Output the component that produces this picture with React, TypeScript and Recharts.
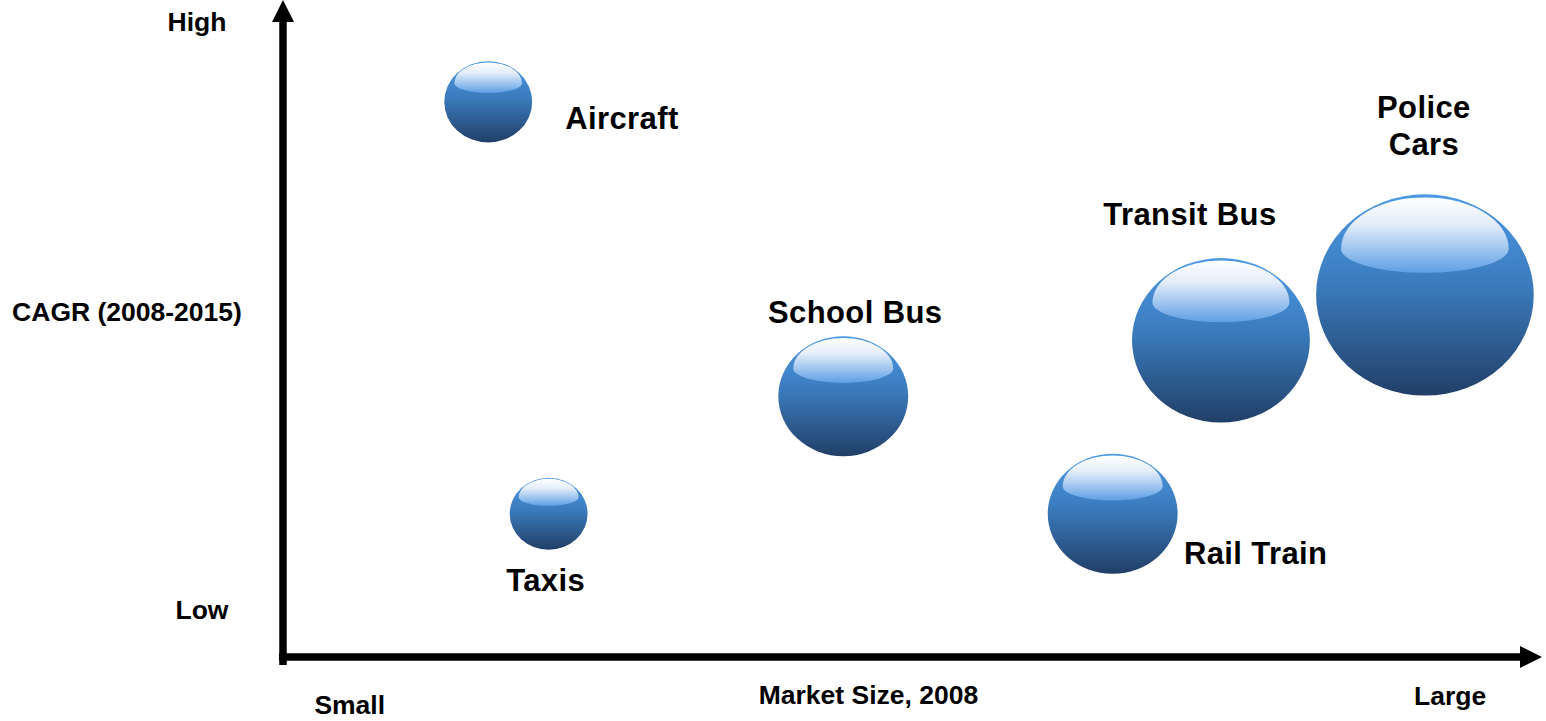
import { ScatterChart, Scatter, XAxis, YAxis, ZAxis, ReferenceLine } from "recharts";

// bubbles (axes are 0-100, unitless)
const names = ["Aircraft", "Taxis", "School Bus", "Rail Train", "Transit Bus", "Police Cars"];
const marketSize = [16.3, 21.1, 44.5, 65.9, 74.5, 90.7];
const cagr = [84.5, 21.8, 39.7, 21.8, 48.2, 55.1];
const bubbleSize = [16.3, 12.8, 35.6, 35.6, 66.8, 100];

const xTicks = [5.3, 46.5, 92.7];
const xTickLabels = ["Small", "Market Size, 2008", "Large"];
const yTicks = [7.3, 52.6, 96.7];
const yTickLabels = ["Low", "CAGR (2008-2015)", "High"];

const data = names.map((name, i) => ({ name, x: marketSize[i], y: cagr[i], z: bubbleSize[i] }));

const FONT = '"Liberation Sans", Arial, Helvetica, sans-serif';
const ASPECT = 1.04; // bubbles are a little wider than tall

// where each label sits relative to its bubble centre
const labelPlace: Record<string, { dx: number; dy: number; anchor?: "start" | "middle"; wrap?: boolean }> = {
  "Aircraft": { dx: 77, dy: 27, anchor: "start" },
  "Taxis": { dx: -3, dy: 77 },
  "School Bus": { dx: 12, dy: -73 },
  "Rail Train": { dx: 143, dy: 50 },
  "Transit Bus": { dx: -31, dy: -115 },
  "Police Cars": { dx: -1, dy: -177, wrap: true },
};

// tick label nudges (x centre left of the y axis, baseline below the x axis)
const yTickShift = [81, 156, 86];
const xTickDrop = [57, 47, 48];

// eslint-disable-next-line @typescript-eslint/no-explicit-any
function Bubble(props: any) {
  const { cx, cy, payload, index } = props;
  const r = props.width ? props.width / 2 : Math.sqrt(props.size / Math.PI);
  const rx = r * ASPECT, ry = r / ASPECT;
  const w = 2 * rx, h = 2 * ry, top = cy - ry;
  const a = 0.385 * w;
  const midY = top + 0.27 * h;
  const upR = 0.255 * h, lowR = 0.12 * h;
  const shine = `M${cx - a},${midY} A${a},${upR} 0 0 1 ${cx + a},${midY} A${a},${lowR} 0 0 1 ${cx - a},${midY} Z`;
  const place = labelPlace[payload.name] ?? { dx: 0, dy: 0 };
  const lines: string[] = place.wrap ? payload.name.split(" ") : [payload.name];
  return (
    <g>
      <defs>
        <linearGradient id={`body-${index}`} x1="0" y1="0" x2="0" y2="1">
          <stop offset="0%" stopColor="#4c99e4" />
          <stop offset="45%" stopColor="#3b7bbd" />
          <stop offset="100%" stopColor="#213f67" />
        </linearGradient>
        <linearGradient id={`shine-${index}`} x1="0" y1="0" x2="0" y2="1">
          <stop offset="0%" stopColor="#ffffff" />
          <stop offset="35%" stopColor="#e4edf9" />
          <stop offset="100%" stopColor="#5e9fe5" />
        </linearGradient>
      </defs>
      <ellipse cx={cx} cy={cy} rx={rx} ry={ry} fill={`url(#body-${index})`} />
      <path d={shine} fill={`url(#shine-${index})`} />
      <text
        x={cx + place.dx}
        y={cy + place.dy}
        textAnchor={place.anchor ?? "middle"}
        fontFamily={FONT}
        fontWeight="bold"
        fontSize={31}
        letterSpacing={0.4}
        fill="#000"
      >
        {lines.map((t, k) => (
          <tspan key={k} x={cx + place.dx} dy={k === 0 ? 0 : 37}>{t}</tspan>
        ))}
      </text>
    </g>
  );
}

// eslint-disable-next-line @typescript-eslint/no-explicit-any
function Arrow(props: any) {
  const { x1, y1, x2, y2, tail = 4 } = props;
  const dx = x2 - x1, dy = y2 - y1;
  const len = Math.hypot(dx, dy) || 1;
  const ux = dx / len, uy = dy / len;
  const head = 22, half = 11;
  const bx = x2 - ux * head, by = y2 - uy * head;
  const px = -uy, py = ux;
  return (
    <g>
      <line x1={x1 - ux * tail} y1={y1 - uy * tail} x2={bx + ux} y2={by + uy} stroke="#000" strokeWidth={7.5} />
      <polygon
        points={`${x2},${y2} ${bx + px * half},${by + py * half} ${bx - px * half},${by - py * half}`}
        fill="#000"
      />
    </g>
  );
}

// eslint-disable-next-line @typescript-eslint/no-explicit-any
function XTick(props: any) {
  const i = xTicks.indexOf(props.payload.value);
  return (
    <text x={props.x} y={props.y + xTickDrop[i]} textAnchor="middle" fontFamily={FONT} fontWeight="bold" fontSize={26.5} fill="#000">
      {xTickLabels[i]}
    </text>
  );
}

// eslint-disable-next-line @typescript-eslint/no-explicit-any
function YTick(props: any) {
  const i = yTicks.indexOf(props.payload.value);
  return (
    <text x={props.x - yTickShift[i]} y={props.y} dy="0.36em" textAnchor="middle" fontFamily={FONT} fontWeight="bold" fontSize={26.5} fill="#000">
      {yTickLabels[i]}
    </text>
  );
}

export default function App() {
  return (
    <div style={{ position: "absolute", left: 0, top: 0, width: 1546, height: 721, background: "#fff" }}>
      <ScatterChart width={1546} height={721} margin={{ top: 0, right: 4, bottom: 0, left: 0 }}>
        <XAxis
          type="number"
          dataKey="x"
          domain={[0, 100]}
          ticks={xTicks}
          interval={0}
          tick={(p) => <XTick {...p} />}
          axisLine={false}
          tickLine={false}
          tickSize={0}
          tickMargin={0}
          height={64}
        />
        <YAxis
          type="number"
          dataKey="y"
          domain={[0, 100]}
          ticks={yTicks}
          interval={0}
          tick={(p) => <YTick {...p} />}
          axisLine={false}
          tickLine={false}
          tickSize={0}
          tickMargin={0}
          width={283}
        />
        <ZAxis type="number" dataKey="z" domain={[0, 100]} range={[0, 34405]} />
        <ReferenceLine
          segment={[{ x: 0, y: 0 }, { x: 100, y: 0 }]}
          ifOverflow="visible"
          shape={(p) => <Arrow {...p} tail={4} />}
        />
        <ReferenceLine
          segment={[{ x: 0, y: 0 }, { x: 0, y: 100 }]}
          ifOverflow="visible"
          shape={(p) => <Arrow {...p} tail={8} />}
        />
        <Scatter data={data} shape={(p: unknown) => <Bubble {...(p as object)} />} isAnimationActive={false} />
      </ScatterChart>
    </div>
  );
}
